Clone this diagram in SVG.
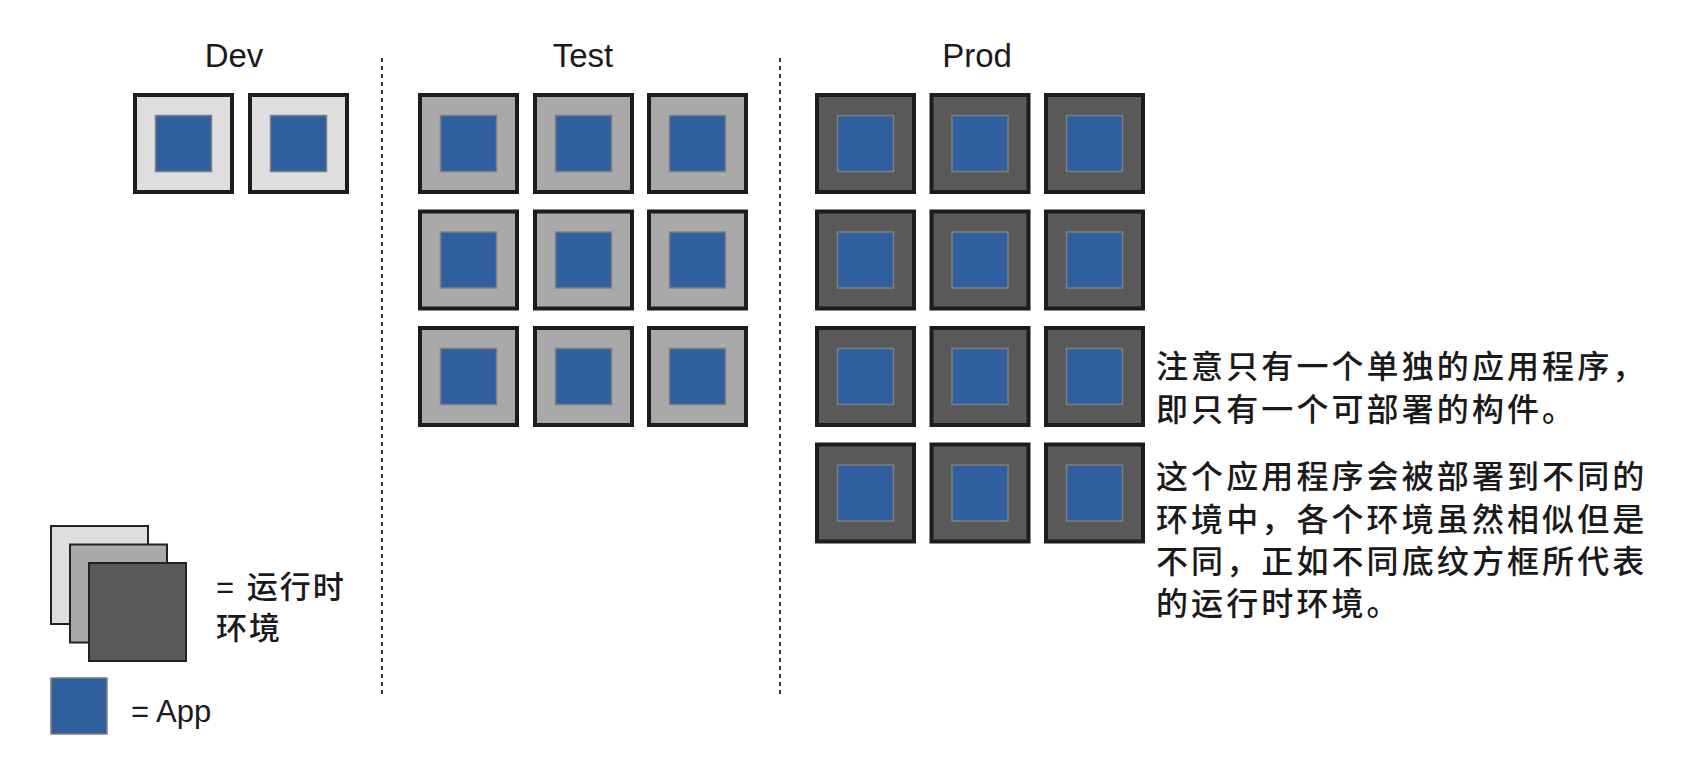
<svg xmlns="http://www.w3.org/2000/svg" width="1684" height="758" viewBox="0 0 1684 758">
<defs>
<style>
.box{stroke:#1c1c1c;stroke-width:4}
.dev{fill:#dedede}
.test{fill:#a9a9a9}
.prod{fill:#595959}
.app{fill:#2f5f9e;stroke:#7f7f7f;stroke-width:1.5}
.title{font-family:"Liberation Sans",Arial,sans-serif;font-size:33px;fill:#1a1a1a;text-anchor:middle}
.note{font-family:"Liberation Sans","Noto Sans CJK SC",sans-serif;font-size:32px;font-weight:500;fill:#1a1a1a;letter-spacing:3.1px}
.leg{font-family:"Liberation Sans","Noto Sans CJK SC",sans-serif;font-size:31px;font-weight:500;fill:#1a1a1a}
.legr{stroke:#222;stroke-width:2}
.sep{stroke:#333;stroke-width:2;stroke-dasharray:4 4;fill:none}
</style>
<g id="cell-dev"><rect class="box dev" x="2" y="2" width="97" height="97"/><rect class="app" x="22.5" y="22.5" width="56" height="56"/></g>
<g id="cell-test"><rect class="box test" x="2" y="2" width="97" height="97"/><rect class="app" x="22.5" y="22.5" width="56" height="56"/></g>
<g id="cell-prod"><rect class="box prod" x="2" y="2" width="97" height="97"/><rect class="app" x="22.5" y="22.5" width="56" height="56"/></g>
</defs>
<rect width="1684" height="758" fill="#ffffff"/>
<g id="connectors">
<line class="sep" x1="382" y1="58" x2="382" y2="696"/>
<line class="sep" x1="780" y1="58" x2="780" y2="696"/>
</g>
<g id="titles">
<text class="title" x="234" y="67">Dev</text>
<text class="title" x="583" y="67">Test</text>
<text class="title" x="977" y="67">Prod</text>
</g>
<g id="dev">
<use href="#cell-dev" x="133" y="93"/>
<use href="#cell-dev" x="248" y="93"/>
</g>
<g id="test">
<use href="#cell-test" x="418" y="93"/>
<use href="#cell-test" x="533" y="93"/>
<use href="#cell-test" x="647" y="93"/>
<use href="#cell-test" x="418" y="209.5"/>
<use href="#cell-test" x="533" y="209.5"/>
<use href="#cell-test" x="647" y="209.5"/>
<use href="#cell-test" x="418" y="326"/>
<use href="#cell-test" x="533" y="326"/>
<use href="#cell-test" x="647" y="326"/>
</g>
<g id="prod">
<use href="#cell-prod" x="815" y="93"/>
<use href="#cell-prod" x="929.5" y="93"/>
<use href="#cell-prod" x="1044" y="93"/>
<use href="#cell-prod" x="815" y="209.5"/>
<use href="#cell-prod" x="929.5" y="209.5"/>
<use href="#cell-prod" x="1044" y="209.5"/>
<use href="#cell-prod" x="815" y="326"/>
<use href="#cell-prod" x="929.5" y="326"/>
<use href="#cell-prod" x="1044" y="326"/>
<use href="#cell-prod" x="815" y="442.5"/>
<use href="#cell-prod" x="929.5" y="442.5"/>
<use href="#cell-prod" x="1044" y="442.5"/>
</g>
<g id="note">
<text class="note" x="1156" y="378">注意只有一个单独的应用程序，</text>
<text class="note" x="1156" y="421">即只有一个可部署的构件。</text>
<text class="note" x="1156" y="488">这个应用程序会被部署到不同的</text>
<text class="note" x="1156" y="531">环境中，各个环境虽然相似但是</text>
<text class="note" x="1156" y="573">不同，正如不同底纹方框所代表</text>
<text class="note" x="1156" y="615">的运行时环境。</text>
</g>
<g id="legend-runtime">
<rect class="legr dev" x="51" y="526" width="97" height="98"/>
<rect class="legr test" x="70" y="544.5" width="97" height="98"/>
<rect class="legr prod" x="89" y="563" width="97" height="98"/>
<text class="leg" x="216" y="598" letter-spacing="2">= 运行时</text>
<text class="leg" x="216" y="639" letter-spacing="2">环境</text>
</g>
<g id="legend-app">
<rect class="app" x="51" y="678" width="56" height="56"/>
<text class="leg" x="131" y="722" font-weight="400">= App</text>
</g>
</svg>
